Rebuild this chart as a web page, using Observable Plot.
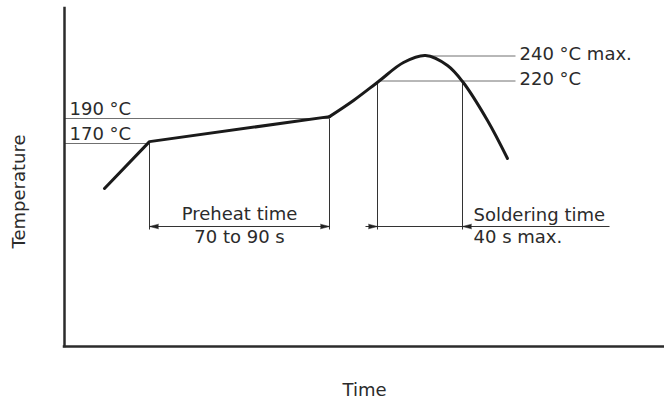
<!DOCTYPE html>
<html>
<head>
<meta charset="utf-8">
<script src="https://cdn.jsdelivr.net/npm/d3@7"></script>
<script src="https://cdn.jsdelivr.net/npm/@observablehq/plot@0.6"></script>
<style>
  html, body { margin: 0; padding: 0; background: #fff; }
</style>
</head>
<body>
<div id="chart"></div>
<script>
// ---- Data (time in s, temperature in °C; schematic reflow profile) ----
const rampTime = [20, 42.5, 132.5];
const rampTemp = [134, 171.5, 191.5];
const peakTime = [132.5, 144.5, 157, 169.5, 180.5, 191.5, 199, 211.5, 221.5];
const peakTemp = [191.5, 204.4, 219.6, 234.8, 240.4, 232.4, 219.6, 188.4, 158];

const levelTemps  = [170, 190, 220, 240];
const levelLabels = ["170 °C", "190 °C", "220 °C", "240 °C max."];
const levelFrom   = [0, 0, 157, 180.5];
const levelTo     = [42.5, 132.5, 225.5, 225.5];
const levelSide   = ["left", "left", "right", "right"];

const preheat = [42.5, 132.5];          // preheat start / end
const soldering = [156.5, 199];         // soldering start / end
const solderingExtent = [150.5, 272.5]; // soldering dimension line extent
const dimTemp = 103.6;                  // dimension line level
const dimBottom = 101.2;                // bottom of extension lines

const preheatText = ["Preheat time", "70 to 90 s"];
const solderingText = ["Soldering time", "40 s max."];
const xLabel = "Time";
const yLabel = "Temperature";

// ---- Tables built from the arrays ----
const ramp = rampTime.map((t, i) => ({t, T: rampTemp[i]}));
const peak = peakTime.map((t, i) => ({t, T: peakTemp[i]}));
const levels = levelTemps.map((T, i) => ({T, label: levelLabels[i], from: levelFrom[i], to: levelTo[i], side: levelSide[i]}));
const extLines = [
  {t: preheat[0], top: levelTemps[0]},
  {t: preheat[1], top: levelTemps[1]},
  {t: soldering[0], top: levelTemps[2]},
  {t: soldering[1], top: levelTemps[2]}
];
const heads = [
  {t: preheat[0], rot: -90},
  {t: preheat[1], rot: 90},
  {t: soldering[0], rot: 90},
  {t: soldering[1], rot: -90}
];
const dims = [
  {x1: preheat[0], x2: preheat[1]},
  {x1: solderingExtent[0], x2: solderingExtent[1]}
];

const xDomain = [0, 300];
const yDomain = [7.6, 278];
const ink = "#2b2b2b";

const chart = Plot.plot({
  width: 664,
  height: 401,
  marginLeft: 64,
  marginRight: 0,
  marginTop: 8,
  marginBottom: 55,
  x: {domain: xDomain, axis: null},
  y: {domain: yDomain, axis: null},
  style: {fontFamily: "'DejaVu Sans', Verdana, sans-serif", fontSize: "18px", color: ink, background: "#fff"},
  marks: [
    // temperature level guide lines
    Plot.link(levels, {x1: "from", x2: "to", y1: "T", y2: "T", stroke: "#707070", strokeWidth: 1}),
    // extension lines
    Plot.link(extLines, {x1: "t", x2: "t", y1: "top", y2: dimBottom, stroke: "#333", strokeWidth: 1}),
    // dimension lines
    Plot.link(dims, {x1: "x1", x2: "x2", y1: dimTemp, y2: dimTemp, stroke: "#333", strokeWidth: 1}),
    // arrow heads
    Plot.vector(heads, {x: "t", y: dimTemp, rotate: "rot", anchor: "end", shape: "spike", length: 9, r: 2.3, fill: "#222", stroke: "#222", strokeWidth: 0.5}),
    // axes
    Plot.ruleX([xDomain[0]], {stroke: ink, strokeWidth: 2.5, strokeLinecap: "square"}),
    Plot.ruleY([yDomain[0]], {stroke: ink, strokeWidth: 2.5, strokeLinecap: "square"}),
    // profile curve
    Plot.line(ramp, {x: "t", y: "T", stroke: "#1a1a1a", strokeWidth: 3, strokeLinejoin: "round"}),
    Plot.line(peak, {x: "t", y: "T", curve: "catmull-rom", stroke: "#1a1a1a", strokeWidth: 3, strokeLinejoin: "round"}),
    // level labels
    Plot.text(levels.filter(d => d.side === "left"), {x: xDomain[0], y: "T", text: "label", textAnchor: "start", lineAnchor: "bottom", dx: 5, dy: -4, fill: ink}),
    Plot.text(levels.filter(d => d.side === "right"), {x: "to", y: "T", text: "label", textAnchor: "start", lineAnchor: "middle", dx: 4, dy: -1.5, fill: ink}),
    // preheat labels
    Plot.text([preheatText[0]], {x: (preheat[0] + preheat[1]) / 2, y: dimTemp, textAnchor: "middle", lineAnchor: "bottom", dy: -7, fill: ink}),
    Plot.text([preheatText[1]], {x: (preheat[0] + preheat[1]) / 2, y: dimTemp, textAnchor: "middle", lineAnchor: "top", dy: 4, fill: ink}),
    // soldering labels
    Plot.text([solderingText[0]], {x: soldering[1], y: dimTemp, textAnchor: "start", lineAnchor: "bottom", dx: 11, dy: -6, fill: ink}),
    Plot.text([solderingText[1]], {x: soldering[1], y: dimTemp, textAnchor: "start", lineAnchor: "top", dx: 11, dy: 4, fill: ink}),
    // axis titles
    Plot.text([yLabel], {frameAnchor: "left", rotate: -90, textAnchor: "middle", lineAnchor: "middle", dx: -45, dy: 14, fill: ink}),
    Plot.text([xLabel], {frameAnchor: "bottom", textAnchor: "middle", lineAnchor: "bottom", dy: 49, fill: ink})
  ]
});

document.getElementById("chart").appendChild(chart);
</script>
</body>
</html>
